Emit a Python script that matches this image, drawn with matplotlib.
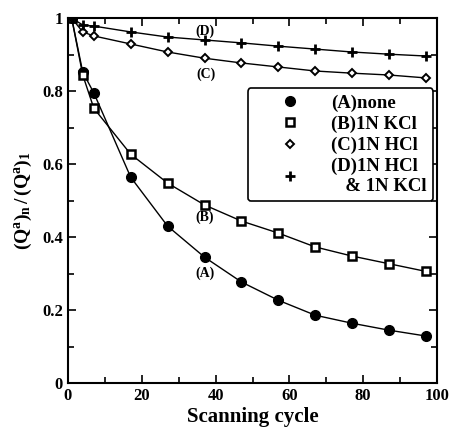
import numpy as np
import matplotlib
matplotlib.use("Agg")
import matplotlib.pyplot as plt
from matplotlib.ticker import MultipleLocator, FormatStrFormatter

plt.rcParams['font.family'] = ['Liberation Serif', 'DejaVu Serif']
plt.rcParams['font.weight'] = 'bold'
plt.rcParams['mathtext.fontset'] = 'custom'
plt.rcParams['mathtext.rm'] = 'Liberation Serif:bold'
plt.rcParams['mathtext.bf'] = 'Liberation Serif:bold'
plt.rcParams['mathtext.it'] = 'Liberation Serif:bold'

# data
cycles = [1, 4, 7, 17, 27, 37, 47, 57, 67, 77, 87, 97]
none_A = [1.0, 0.852, 0.795, 0.564, 0.43, 0.345, 0.277, 0.227, 0.186, 0.164, 0.145, 0.129]
kcl_B = [1.0, 0.844, 0.753, 0.627, 0.548, 0.488, 0.444, 0.411, 0.373, 0.348, 0.327, 0.306]
hcl_C = [1.0, 0.962, 0.951, 0.929, 0.907, 0.89, 0.877, 0.866, 0.855, 0.849, 0.844, 0.836]
hcl_kcl_D = [1.0, 0.981, 0.978, 0.962, 0.948, 0.94, 0.932, 0.923, 0.915, 0.907, 0.901, 0.896]

labels = ['(A)none', '(B)1N KCl', '(C)1N HCl', '(D)1N HCl\n   & 1N KCl']

fig = plt.figure(figsize=(4.49, 4.30), dpi=100)
ax = fig.add_axes([0.1514, 0.109, 0.822, 0.849])

ax.plot(cycles, none_A, '-', color='black', lw=1.0, marker='o', ms=7,
        mfc='black', mec='black', label=labels[0])
ax.plot(cycles, kcl_B, '-', color='black', lw=1.0, marker='s', ms=6,
        mfc='white', mec='black', mew=1.8, label=labels[1])
ax.plot(cycles, hcl_C, '-', color='black', lw=1.0, marker='D', ms=4,
        mfc='white', mec='black', mew=1.4, label=labels[2])
ax.plot(cycles, hcl_kcl_D, '-', color='black', lw=1.0, marker='+', ms=7,
        mec='black', mew=2.0, label=labels[3])

# curve labels
ax.text(37, 0.965, '(D)', fontsize=10, ha='center', va='center')
ax.text(37.5, 0.845, '(C)', fontsize=10, ha='center', va='center')
ax.text(37, 0.455, '(B)', fontsize=10, ha='center', va='center')
ax.text(37, 0.30, '(A)', fontsize=10, ha='center', va='center')

ax.set_xlim(0, 100)
ax.set_ylim(0, 1)
ax.xaxis.set_major_locator(MultipleLocator(20))
ax.xaxis.set_minor_locator(MultipleLocator(10))
ax.yaxis.set_major_locator(MultipleLocator(0.2))
ax.yaxis.set_minor_locator(MultipleLocator(0.1))
ax.yaxis.set_major_formatter(FormatStrFormatter('%g'))
ax.xaxis.set_major_formatter(FormatStrFormatter('%g'))
ax.tick_params(which='both', direction='in', top=True, right=True, labelsize=12, width=1.2)
ax.tick_params(which='major', length=6)
ax.tick_params(which='minor', length=4)
for s in ax.spines.values():
    s.set_linewidth(1.5)

ax.set_xlabel('Scanning cycle', fontsize=15, fontweight='bold', labelpad=2)
ax.set_ylabel(r'$\mathbf{(Q^a)_n\,/\,(Q^a)_1}$', fontsize=14, labelpad=6)

leg = ax.legend(loc='upper right', bbox_to_anchor=(0.99, 0.808), borderaxespad=0,
                prop={'family': 'Liberation Serif', 'weight': 'bold', 'size': 13.5},
                handlelength=3.8, handletextpad=0.3, borderpad=0.35,
                labelspacing=0.2, fancybox=True, framealpha=1, edgecolor='black')
leg.get_frame().set_linewidth(1.2)
for h in leg.get_lines():
    h.set_linestyle('none')

fig.savefig('out.png', dpi=100)
